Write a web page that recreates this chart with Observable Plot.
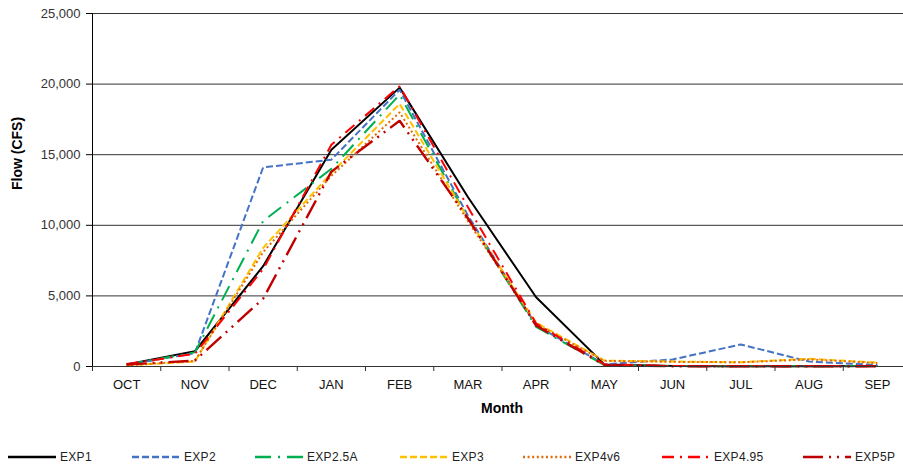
<!DOCTYPE html>
<html>
<head>
<meta charset="utf-8">
<script src="https://cdn.jsdelivr.net/npm/d3@7"></script>
<script src="https://cdn.jsdelivr.net/npm/@observablehq/plot@0.6"></script>
<style>
  body { margin: 0; background: #fff; font-family: "Liberation Sans", Arial, sans-serif; }
  #wrap { width: 903px; height: 467px; overflow: hidden; position: relative; background: #fff; }
  #chart { width: 920px; }
  #legend { position: absolute; left: 0; top: 450px; width: 903px; height: 16px;
            font-size: 12px; color: #222; letter-spacing: 0.3px; white-space: nowrap; }
  .item { position: absolute; top: 0; display: flex; align-items: center; }
  .item svg { margin-right: 4px; display: block; }
</style>
</head>
<body>
<div id="wrap">
  <div id="chart"></div>
  <div id="legend"></div>
</div>
<script>
// ---- data ----
const months = ["OCT", "NOV", "DEC", "JAN", "FEB", "MAR", "APR", "MAY", "JUN", "JUL", "AUG", "SEP"];
const seriesNames = ["EXP1", "EXP2", "EXP2.5A", "EXP3", "EXP4v6", "EXP4.95", "EXP5P"];
const exp1   = [150, 1080, 7100, 15350, 19750, 12000, 4900, 150, 30, 20, 20, 30];
const exp2   = [120, 950, 14100, 14650, 19600, 10700, 2900, 150, 500, 1560, 350, 100];
const exp25a = [130, 1000, 10300, 14000, 19250, 10500, 2800, 100, 30, 20, 20, 30];
const exp3   = [80, 350, 8400, 13700, 18600, 10500, 3100, 420, 350, 300, 550, 270];
const exp4v6 = [80, 400, 8100, 13500, 18000, 10300, 3000, 400, 330, 300, 500, 250];
const exp495 = [170, 900, 6900, 15700, 19850, 11300, 3050, 150, 30, 20, 20, 20];
const exp5p  = [140, 420, 4800, 13800, 17400, 10500, 2900, 100, 20, 20, 20, 20];
const yTicks = [0, 5000, 10000, 15000, 20000, 25000];

// ---- styles / layout ----
const seriesValues = [exp1, exp2, exp25a, exp3, exp4v6, exp495, exp5p];
const colors = ["#000000", "#4472C4", "#00B050", "#FFC000", "#E26B0A", "#FF0000", "#C00000"];
const dashes = ["none", "7,3", "16,7,2,7", "7,3", "2,2.6", "12,6,2,6", "20,6,2,6,2,6"];
const widths = [2, 2, 2, 2, 2, 2, 2.4];
const legendLeft = [8, 132, 255, 400, 523, 662, 803];

const data = seriesNames.flatMap((s, i) =>
  seriesValues[i].map((v, j) => ({ series: s, month: j, flow: v })));

const font = "'Liberation Sans', Arial, sans-serif";

const lineMarks = seriesNames.map((s, i) =>
  Plot.line(data.filter(d => d.series === s), {
    x: "month", y: "flow",
    stroke: colors[i], strokeWidth: widths[i], strokeDasharray: dashes[i],
    strokeLinejoin: "miter", strokeLinecap: "butt"
  }));

const chart = Plot.plot({
  width: 920,
  height: 430,
  marginLeft: 92,
  marginRight: 9,
  marginTop: 13,
  marginBottom: 64,
  style: { fontFamily: font, fontSize: "13px", color: "#222", background: "#fff" },
  x: { domain: [-0.5, 11.5], axis: null },
  y: { domain: [0, 25000], axis: null },
  marks: [
    Plot.ruleY(yTicks.slice(1), { stroke: "#333", strokeWidth: 1 }),
    Plot.axisY(yTicks, { tickSize: 6, tickPadding: 6, tickFormat: d3.format(","), label: null,
                         stroke: "#000", fill: "#333", letterSpacing: "0.6px" }),
    Plot.axisX(d3.range(-0.5, 12, 1), { tickSize: 5, tickFormat: () => "", label: null, stroke: "#333" }),
    Plot.axisX(d3.range(12), { tickSize: 0, tickPadding: 13, tickFormat: i => months[i], label: null,
                               fill: "#111", letterSpacing: "0.6px" }),
    ...lineMarks,
    Plot.ruleX([-0.5], { stroke: "#000", strokeWidth: 1 }),
    Plot.ruleY([0], { stroke: "#333", strokeWidth: 1 }),
    Plot.text(["Month"], { frameAnchor: "bottom", dy: 46, fontWeight: "bold", fontSize: 14, fill: "#000" }),
    Plot.text(["Flow (CFS)"], { frameAnchor: "left", dx: -75, rotate: -90, fontWeight: "bold", fontSize: 14, fill: "#000" })
  ]
});
document.getElementById("chart").appendChild(chart);

// ---- legend ----
const legend = document.getElementById("legend");
seriesNames.forEach((s, i) => {
  const item = document.createElement("div");
  item.className = "item";
  item.style.left = legendLeft[i] + "px";
  const ns = "http://www.w3.org/2000/svg";
  const svg = document.createElementNS(ns, "svg");
  svg.setAttribute("width", 48);
  svg.setAttribute("height", 14);
  const ln = document.createElementNS(ns, "line");
  ln.setAttribute("x1", 0); ln.setAttribute("x2", 48);
  ln.setAttribute("y1", 7); ln.setAttribute("y2", 7);
  ln.setAttribute("stroke", colors[i]);
  ln.setAttribute("stroke-width", widths[i] + 0.3);
  if (dashes[i] !== "none") ln.setAttribute("stroke-dasharray", dashes[i]);
  svg.appendChild(ln);
  const t = document.createElement("span");
  t.textContent = s;
  item.appendChild(svg);
  item.appendChild(t);
  legend.appendChild(item);
});
</script>
</body>
</html>
